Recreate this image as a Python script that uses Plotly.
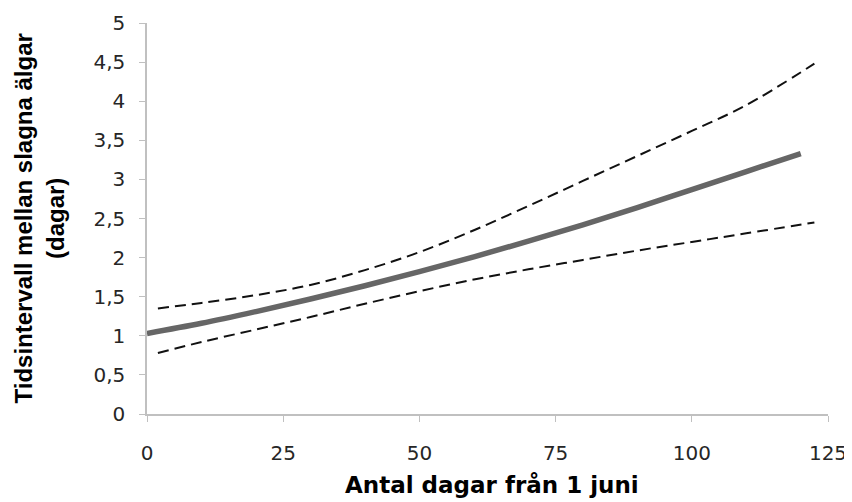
import plotly.graph_objects as go

# Data
x_main = [0, 10, 20, 30, 40, 50, 60, 70, 80, 90, 100, 110, 120]
y_main = [1.03, 1.16, 1.31, 1.47, 1.64, 1.82, 2.01, 2.21, 2.42, 2.64, 2.87, 3.10, 3.33]

x_ci = [2, 10, 20, 30, 40, 50, 60, 70, 80, 90, 100, 110, 122.5]
y_upper = [1.35, 1.42, 1.52, 1.65, 1.84, 2.07, 2.35, 2.66, 2.98, 3.30, 3.62, 3.95, 4.48]
y_lower = [0.78, 0.92, 1.08, 1.24, 1.41, 1.57, 1.72, 1.85, 1.97, 2.09, 2.20, 2.31, 2.45]

x_ticks = [0, 25, 50, 75, 100, 125]
y_ticks = [0, 0.5, 1, 1.5, 2, 2.5, 3, 3.5, 4, 4.5, 5]
y_tick_labels = ["0", "0,5", "1", "1,5", "2", "2,5", "3", "3,5", "4", "4,5", "5"]

x_title = "Antal dagar från 1 juni"
y_title = "Tidsintervall mellan slagna älgar<br>(dagar)"

fig = go.Figure()
dash_style = dict(color="#111111", width=2, dash="11px,6px")
fig.add_trace(go.Scatter(x=x_ci, y=y_upper, mode="lines", line=dash_style,
                         line_shape="spline", showlegend=False))
fig.add_trace(go.Scatter(x=x_ci, y=y_lower, mode="lines", line=dash_style,
                         line_shape="spline", showlegend=False))
fig.add_trace(go.Scatter(x=x_main, y=y_main, mode="lines",
                         line=dict(color="#666666", width=5.5, shape="spline"),
                         showlegend=False))

tick_font = dict(family="DejaVu Sans, sans-serif", size=20, color="#262626")

fig.update_layout(
    width=852, height=502,
    margin=dict(l=139, r=32, t=15, b=96, autoexpand=False),
    paper_bgcolor="white", plot_bgcolor="white",
    font=dict(family="DejaVu Sans, sans-serif", color="#262626"),
    annotations=[
        dict(text="<b>" + x_title + "</b>", xref="paper", yref="paper",
             x=0.5066, y=-0.182, xanchor="center", yanchor="middle", showarrow=False,
             font=dict(family="DejaVu Sans, sans-serif", size=23, color="#000000")),
        dict(text="<b>" + y_title + "</b>", xref="paper", yref="paper",
             x=-0.1586, y=0.50, xanchor="center", yanchor="middle", showarrow=False,
             textangle=-90,
             font=dict(family="Liberation Sans, Arial, sans-serif", size=24, color="#000000")),
    ],
)
fig.update_xaxes(
    range=[0, 125], tickvals=x_ticks, ticktext=[str(v) for v in x_ticks],
    showgrid=False, zeroline=False, showline=True, linecolor="#c0c0c0", linewidth=1.5,
    ticks="outside", ticklen=6, tickcolor="#c0c0c0", tickwidth=1,
    tickfont=tick_font, ticklabelstandoff=14, automargin=False,
)
fig.update_yaxes(
    range=[0, 5], tickvals=y_ticks, ticktext=y_tick_labels,
    showgrid=False, zeroline=False, showline=True, linecolor="#c0c0c0", linewidth=1.5,
    ticks="outside", ticklen=6, tickcolor="#c0c0c0", tickwidth=1,
    tickfont=tick_font, ticklabelstandoff=10, automargin=False,
)

fig.write_html("out.html")
